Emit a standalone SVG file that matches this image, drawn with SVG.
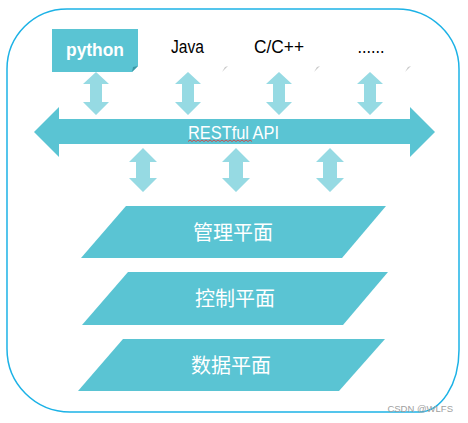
<svg xmlns="http://www.w3.org/2000/svg" width="468" height="423" viewBox="0 0 468 423">
<style>
.frame{fill:#fff;stroke:#1CB2E6;stroke-width:1.5}
.dark{fill:#5AC4D3}
.light{fill:#96DAE3}
.lbl{font-family:"Liberation Sans",Arial,sans-serif;font-size:17.5px;fill:#000;text-anchor:middle}
.wlbl{font-family:"Liberation Sans",Arial,sans-serif;font-size:17.5px;fill:#fff;text-anchor:middle}
.cjk{font-family:"Noto Sans CJK SC","Liberation Sans",sans-serif;font-size:20px;fill:#fff;text-anchor:middle}
.ear{fill:#c8c8c8}
</style>
<defs>
<path id="vdbl" d="M0,0 L13,12 L6,12 L6,30 L13,30 L0,43 L-13,30 L-6,30 L-6,12 L-13,12 Z"/>
<path id="vdbl2" d="M0,0 L14,14 L7,14 L7,30 L14,30 L0,44 L-14,30 L-7,30 L-7,14 L-14,14 Z"/>
</defs>
<rect width="468" height="423" fill="#fff"/>
<path class="frame" d="M67,9 L397,9 A62,60 0 0 1 459,69 L459,350 A40,62 0 0 1 419,412 L70,412 A63,63 0 0 1 7,349 L7,69 A60,60 0 0 1 67,9 Z"/>

<g id="python">
<polygon class="dark" points="52,29 138,29 138,66 132,72 52,72"/>
<polygon fill="#3C98A5" points="138,66 132,72 133,67"/>
<text class="wlbl" x="95" y="56" font-weight="bold" textLength="58" lengthAdjust="spacingAndGlyphs">python</text>
</g>
<g id="java">
<text class="lbl" x="187.5" y="53" textLength="33" lengthAdjust="spacingAndGlyphs">Java</text>
<polygon class="ear" points="222,72 228,66 225,67"/>
</g>
<g id="cpp">
<text class="lbl" x="279" y="53" textLength="50" lengthAdjust="spacingAndGlyphs">C/C++</text>
<polygon class="ear" points="314,72 320,66 317,67"/>
</g>
<g id="more">
<text class="lbl" x="371" y="53" textLength="27" lengthAdjust="spacingAndGlyphs">......</text>
<polygon class="ear" points="405,72 411,66 408,67"/>
</g>

<g id="connectors">
<use href="#vdbl" class="light" x="96" y="72"/>
<use href="#vdbl" class="light" x="188" y="72"/>
<use href="#vdbl" class="light" x="279" y="72"/>
<use href="#vdbl" class="light" x="370" y="72"/>
<use href="#vdbl2" class="light" x="143" y="148"/>
<use href="#vdbl2" class="light" x="236" y="148"/>
<use href="#vdbl2" class="light" x="330" y="148"/>
</g>

<g id="restful">
<polygon class="dark" points="34,132 59,107 59,119 410,119 410,107 435,132 410,157 410,144 59,144 59,157"/>
<text class="wlbl" x="233.5" y="139" textLength="91" lengthAdjust="spacingAndGlyphs">RESTful API</text>
<path d="M188,141.5 l2,-1.5 l2,1.5 l2,-1.5 l2,1.5 l2,-1.5 l2,1.5 l2,-1.5 l2,1.5 l2,-1.5 l2,1.5 l2,-1.5 l2,1.5 l2,-1.5 l2,1.5 l2,-1.5 l2,1.5 l2,-1.5 l2,1.5 l2,-1.5 l2,1.5 l2,-1.5 l2,1.5 l2,-1.5 l2,1.5 l2,-1.5 l2,1.5 l2,-1.5 l2,1.5 l2,-1.5 l2,1.5 l2,-1.5 l2,1.5" fill="none" stroke="#e03030" stroke-width="0.8"/>
</g>

<g id="mgmt">
<polygon class="dark" points="126,206 386,206 342,258 81,258"/>
<text class="cjk" x="233" y="240">管理平面</text>
</g>
<g id="ctrl">
<polygon class="dark" points="128,272 388,272 343,325 82,325"/>
<text class="cjk" x="235" y="306">控制平面</text>
</g>
<g id="data">
<polygon class="dark" points="123,339 385,339 339,391 78,391"/>
<text class="cjk" x="231" y="373">数据平面</text>
</g>

<text x="453" y="412" text-anchor="end" font-family="Liberation Sans,Arial,sans-serif" font-size="9.5" fill="#a0a0a0">CSDN @WLFS</text>
</svg>
